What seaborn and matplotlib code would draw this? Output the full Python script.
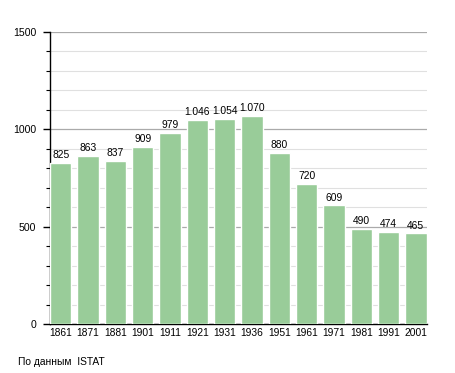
import pandas as pd
import matplotlib.pyplot as plt
import seaborn as sns
from matplotlib.ticker import MultipleLocator

sns.set_style('white')
plt.rcParams['font.family'] = ['Liberation Sans', 'DejaVu Sans']
plt.rcParams['text.color'] = 'black'
plt.rcParams['xtick.color'] = 'black'
plt.rcParams['ytick.color'] = 'black'

# данные по населению
years = ['1861', '1871', '1881', '1901', '1911', '1921', '1931',
         '1936', '1951', '1961', '1971', '1981', '1991', '2001']
population = [825, 863, 837, 909, 979, 1046, 1054,
              1070, 880, 720, 609, 490, 474, 465]

df = pd.DataFrame({'year': years, 'pop': population})

fig = plt.figure(figsize=(4.55, 3.73), dpi=100)
ax = fig.add_axes([0.1099, 0.1314, 0.8275, 0.7828])

sns.barplot(data=df, x='year', y='pop', color='#99cc99', saturation=1,
            width=0.78, ax=ax, zorder=3)

# подписи над столбцами
for i, v in enumerate(population):
    label = f'{v:,}'.replace(',', '.')
    ax.text(i, v + 15, label, ha='center', va='bottom', fontsize=7.4, zorder=4)

ax.set_ylim(0, 1500)
ax.set_xlim(-0.39, 13.39)
ax.yaxis.set_major_locator(MultipleLocator(500))
ax.yaxis.set_minor_locator(MultipleLocator(100))
ax.grid(which='major', axis='y', color='#aaaaaa', linewidth=0.9, zorder=0)
ax.grid(which='minor', axis='y', color='#e0e0e0', linewidth=0.8, zorder=0)
ax.set_axisbelow(True)

for s in ['top', 'right']:
    ax.spines[s].set_visible(False)
ax.spines['left'].set_color('black')
ax.spines['bottom'].set_color('black')
ax.spines['left'].set_linewidth(1)
ax.spines['bottom'].set_linewidth(1)

ax.tick_params(axis='y', which='major', direction='out', length=5, width=1,
               labelsize=7.6, left=True, pad=5)
ax.tick_params(axis='y', which='minor', direction='out', length=3, width=0.8,
               left=True)
ax.tick_params(axis='x', length=0, labelsize=7.4, pad=3)
ax.set_xlabel('')
ax.set_ylabel('')

fig.text(0.04, 0.03, 'По данным  ISTAT', fontsize=7.4, ha='left', va='center')

fig.savefig('out.png', dpi=100)
